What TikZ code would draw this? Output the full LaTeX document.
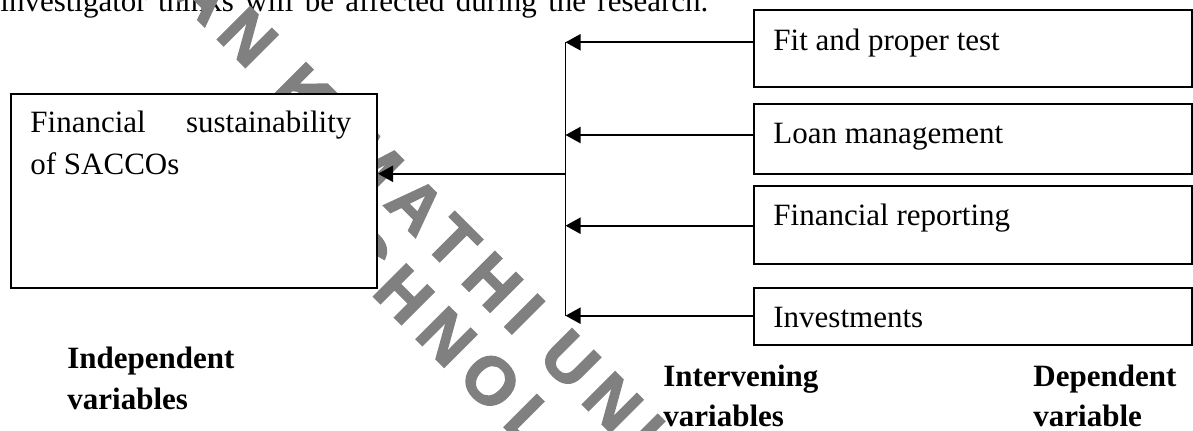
\documentclass[tikz,border=0pt]{standalone}
\usepackage{fontspec}
\setmainfont{Liberation Serif}
\newfontfamily\wmfont{Liberation Sans}[UprightFont={* Bold}, FakeBold=2.5, LetterSpace=17.9]
\usetikzlibrary{arrows.meta}
\begin{document}
\begin{tikzpicture}[x=0.5pt,y=-0.5pt,
  txt/.style={inner sep=0pt, anchor=base west, font=\fontsize{15.5}{21}\selectfont},
  lbl/.style={inner sep=0pt, anchor=base west, font=\fontsize{15.5}{21}\selectfont\bfseries},
  box/.style={draw, fill=white, line width=1pt, inner sep=0pt, anchor=north west},
  rbox/.style={box, minimum width=219.15pt},
  wm/.style={inner sep=0pt, anchor=base west, rotate=-45, text=black!50,
    font=\wmfont\fontsize{33.5}{38}\selectfont},
  link/.style={line width=1pt, -{Triangle[length=7.5pt,width=8pt]}},
  bus/.style={line width=0.8pt}]
\useasboundingbox (0,0) rectangle (1193,431);
\clip (0,0) rectangle (1193,431);
% cut-off line of the page text
\node[txt] (intro) at (0,12) {\makebox[354pt][s]{investigator thinks will be affected during the research.}};
% watermark
\node[wm] (wm1) at (46,-132) {DEDAN KIMATHI UNIVERSITY};
\node[wm] (wm2) at (250,173) {TECHNOLOGY};
% left box
\node[box, minimum width=183pt, minimum height=97pt] (sust) at (10,93) {};
\node[txt] (sust1) at (30,133) {\makebox[160.5pt][s]{Financial sustainability}};
\node[txt] (sust2) at (30,175) {of SACCOs};
% right boxes
\node[rbox, minimum height=38.35pt] (fit) at (752.7,9.3) {};
\node[txt] (fitT) at (773,50.7) {Fit and proper test};
\node[rbox, minimum height=35pt] (loan) at (752.7,103) {};
\node[txt] (loanT) at (773,144) {Loan management};
\node[rbox, minimum height=38.85pt] (rep) at (752.7,185) {};
\node[txt] (repT) at (773,226) {Financial reporting};
\node[rbox, minimum height=28.35pt] (inv) at (752.7,287.3) {};
\node[txt] (invT) at (773,328) {Investments};
% labels
\node[lbl] (ind1) at (67,369) {Independent};
\node[lbl] (ind2) at (67,410) {variables};
\node[lbl] (int1) at (663,387) {Intervening};
\node[lbl] (int2) at (663,426.7) {variables};
\node[lbl] (dep1) at (1033,387) {Dependent};
\node[lbl] (dep2) at (1033,426.7) {variable};
% junction points
\coordinate (jfit) at (565.5,42.3);
\coordinate (jloan) at (565.5,135);
\coordinate (jmain) at (565.5,173.8);
\coordinate (jrep) at (565.5,225.7);
\coordinate (jinv) at (565.5,315.7);
% connectors
\draw[bus] (jfit) -- (jinv);
\draw[link] (fit.west |- jfit) -- (jfit);
\draw[link] (loan.west |- jloan) -- (jloan);
\draw[link] (rep.west |- jrep) -- (jrep);
\draw[link] (inv.west |- jinv) -- (jinv);
\draw[link] (jmain) -- (sust.east |- jmain);
\end{tikzpicture}
\end{document}
